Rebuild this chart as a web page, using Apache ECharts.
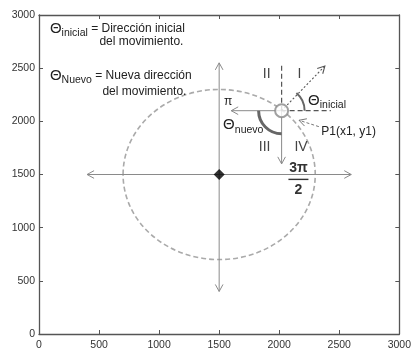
<!DOCTYPE html>
<html><head><meta charset="utf-8">
<script src="https://cdn.jsdelivr.net/npm/echarts@6/dist/echarts.min.js"></script>
<style>html,body{margin:0;padding:0;background:#fff}#c{width:414px;height:351px}</style>
</head><body><div id="c"></div>
<script>
// ---- data ----
const xTicks = [0, 500, 1000, 1500, 2000, 2500, 3000];
const yTicks = [0, 500, 1000, 1500, 2000, 2500, 3000];
const ellipse = [[1500, 1500, 800, 800]];            // cx, cy, rx, ry (data units)
const mainAxes = [[400, 1500, 2600, 1500], [1500, 400, 1500, 2550]]; // double-headed arrows
const localArrows = [[2020, 2100, 1600, 2100], [2020, 2100, 2020, 1600]]; // pi and 3pi/2 arrows
const localDashed = [[2020, 2100, 2020, 2550], [2020, 2100, 2430, 2100]];
const directionArrow = [[2020, 2100, 2380, 2520]];
const pointerArrow = [[2330, 1950, 2165, 2010]];
const centerPoint = [[1500, 1500]];
const p1Point = [[2020, 2100]];
const arcInicial = [[2020, 2100, 0, 50]];   // cx, cy, startDeg, endDeg
const arcNuevo = [[2020, 2100, 180, 270]];
const labelPos = [[91, 2870], [503, 2750], [91, 2426], [528, 2278],
  [1863, 2444], [2152, 2444], [1830, 1759], [2127, 1759],
  [1541, 2185], [1533, 1963], [2240, 2194], [2350, 1907]];
const labelTexts = [
  '{t|Θ}{s|inicial}{n| = Dirección inicial}',
  '{n|del movimiento.}',
  '{t|Θ}{s|Nuevo}{n| = Nueva dirección}',
  '{n|del movimiento.}',
  '{r|II}', '{r|I}', '{r|III}', '{r|IV}',
  '{n|π}',
  '{t|Θ}{s|nuevo}',
  '{t|Θ}{s|inicial}',
  '{n|P1(x1, y1)}'
];
const fracPos = [[2160, 1454]];
const fracTexts = ['3π', '2'];

// ---- rendering ----
const chart = echarts.init(document.getElementById('c'));
const FONT = 'Liberation Sans, Arial, sans-serif';
const rich = {
  t: {fontSize: 15, fontFamily: FONT, fill: '#222', lineHeight: 20},
  s: {fontSize: 10.5, fontFamily: FONT, fill: '#222', lineHeight: 11, verticalAlign: 'bottom'},
  n: {fontSize: 12, fontFamily: FONT, fill: '#222', lineHeight: 20},
  r: {fontSize: 14, fontFamily: FONT, fill: '#444', lineHeight: 20}
};

function head(tip, from, style) {
  const ang = Math.atan2(tip[1] - from[1], tip[0] - from[0]);
  const L = 8, w = 0.5;
  return {type: 'polyline', shape: {points: [
    [tip[0] - L * Math.cos(ang - w), tip[1] - L * Math.sin(ang - w)], tip,
    [tip[0] - L * Math.cos(ang + w), tip[1] - L * Math.sin(ang + w)]]},
    style: {stroke: style.stroke, lineWidth: style.lineWidth, fill: null}};
}
function segSeries(data, style, hs, he) {
  return {type: 'custom', data, clip: false, silent: true, z: 5,
    renderItem(params, api) {
      const a = api.coord([api.value(0), api.value(1)]);
      const b = api.coord([api.value(2), api.value(3)]);
      const ch = [{type: 'line', shape: {x1: a[0], y1: a[1], x2: b[0], y2: b[1]}, style: Object.assign({fill: null}, style)}];
      if (he) ch.push(head(b, a, style));
      if (hs) ch.push(head(a, b, style));
      return {type: 'group', children: ch};
    }};
}
function arcSeries(data, r, style) {
  return {type: 'custom', data, clip: false, silent: true, z: 6,
    renderItem(params, api) {
      const c = api.coord([api.value(0), api.value(1)]);
      return {type: 'arc', shape: {cx: c[0], cy: c[1], r,
        startAngle: -api.value(3) * Math.PI / 180, endAngle: -api.value(2) * Math.PI / 180, clockwise: true},
        style: Object.assign({fill: null}, style)};
    }};
}
const axisCommon = {min: 0, max: 3000, interval: 500,
  axisLine: {show: true, onZero: false, lineStyle: {color: '#555', width: 1.3}},
  axisTick: {show: true, inside: true, length: 4, lineStyle: {color: '#555'}},
  splitLine: {show: false}};
const lab = {color: '#333', fontSize: 10.5, fontFamily: FONT, formatter: v => String(v)};

chart.setOption({
  animation: false,
  grid: {left: 39, right: 12, top: 15, bottom: 12, containLabel: false},
  xAxis: [
    Object.assign({type: 'value', position: 'bottom', axisLabel: Object.assign({customValues: xTicks, margin: 6}, lab)}, axisCommon),
    Object.assign({type: 'value', position: 'top', axisLabel: {show: false}}, axisCommon)
  ],
  yAxis: [
    Object.assign({type: 'value', position: 'left', axisLabel: Object.assign({customValues: yTicks, margin: 4}, lab)}, axisCommon),
    Object.assign({type: 'value', position: 'right', axisLabel: {show: false}}, axisCommon)
  ],
  series: [
    {type: 'custom', data: ellipse, clip: false, silent: true, z: 2,
      renderItem(params, api) {
        const c = api.coord([api.value(0), api.value(1)]);
        const s = api.size([api.value(2), api.value(3)]);
        return {type: 'ellipse', shape: {cx: c[0], cy: c[1], rx: s[0], ry: s[1]},
          style: {fill: null, stroke: '#aaa', lineWidth: 1.6, lineDash: [5, 3]}};
      }},
    segSeries(mainAxes, {stroke: '#8a8a8a', lineWidth: 1}, true, true),
    segSeries(localArrows, {stroke: '#8a8a8a', lineWidth: 1}, false, true),
    segSeries(localDashed, {stroke: '#555', lineWidth: 1.2, lineDash: [5, 3]}, false, false),
    segSeries(directionArrow, {stroke: '#555', lineWidth: 1.1, lineDash: [2, 2]}, false, true),
    segSeries(pointerArrow, {stroke: '#777', lineWidth: 1, lineDash: [3, 2]}, false, true),
    arcSeries(arcInicial, 23, {stroke: '#666', lineWidth: 2}),
    arcSeries(arcNuevo, 23, {stroke: '#666', lineWidth: 3}),
    {type: 'scatter', data: centerPoint, symbol: 'diamond', symbolSize: 11,
      itemStyle: {color: '#000'}, silent: true, z: 8},
    {type: 'scatter', data: p1Point, symbol: 'circle', symbolSize: 13,
      itemStyle: {color: '#fff', borderColor: '#888', borderWidth: 2}, silent: true, z: 8},
    {type: 'custom', data: labelPos, clip: false, silent: true, z: 10,
      renderItem(params, api) {
        const c = api.coord([api.value(0), api.value(1)]);
        return {type: 'text', x: c[0], y: c[1],
          style: {text: labelTexts[params.dataIndex], rich, align: 'left', verticalAlign: 'middle'}};
      }},
    {type: 'custom', data: fracPos, clip: false, silent: true, z: 10,
      renderItem(params, api) {
        const c = api.coord([api.value(0), api.value(1)]);
        const f = {fontSize: 14, fontFamily: FONT, fontWeight: 'bold', fill: '#333', align: 'center', verticalAlign: 'middle'};
        return {type: 'group', children: [
          {type: 'text', x: c[0], y: c[1] - 11, style: Object.assign({text: fracTexts[0]}, f)},
          {type: 'line', shape: {x1: c[0] - 10, y1: c[1], x2: c[0] + 10, y2: c[1]}, style: {stroke: '#333', lineWidth: 1.4}},
          {type: 'text', x: c[0], y: c[1] + 11, style: Object.assign({text: fracTexts[1]}, f)}
        ]};
      }}
  ]
});
</script></body></html>
